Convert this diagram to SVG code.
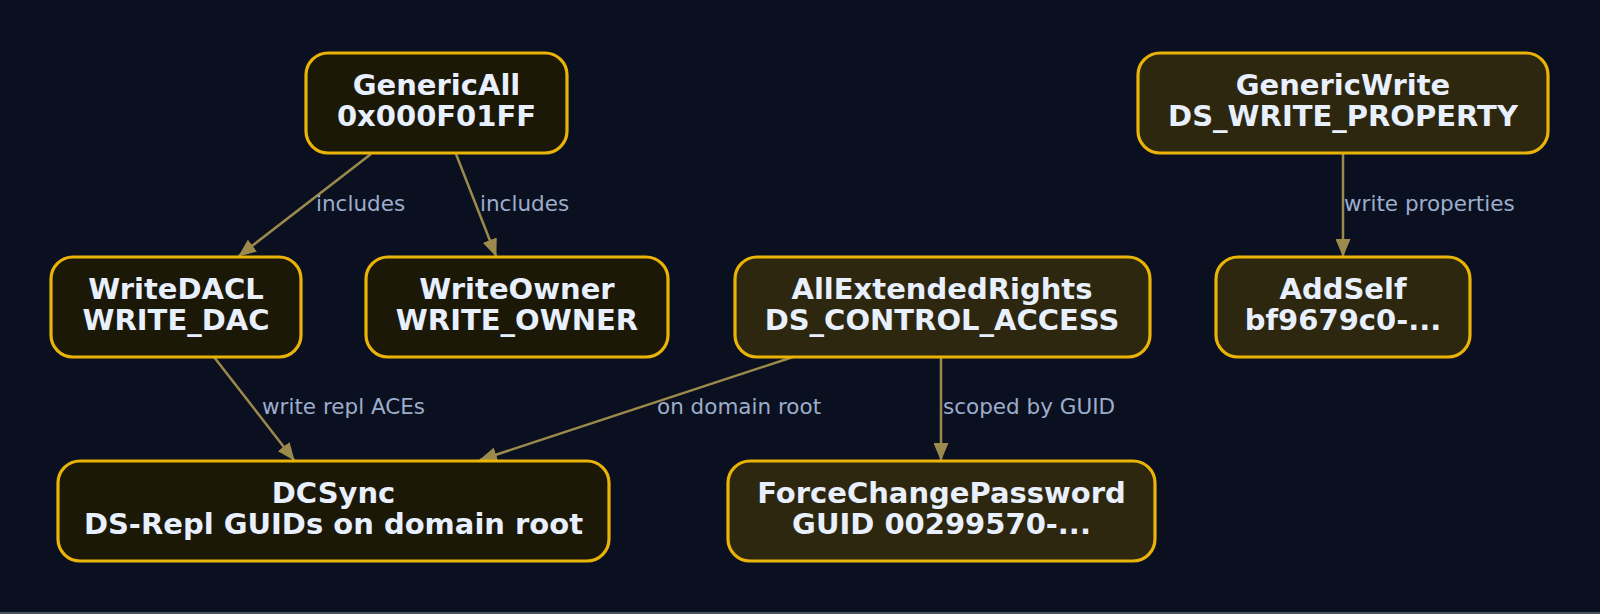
<svg xmlns="http://www.w3.org/2000/svg" width="1600" height="614" viewBox="0 0 1600 614">
  <defs>
    <marker id="arrow" markerUnits="userSpaceOnUse" markerWidth="18" markerHeight="15" refX="17" refY="7.5" orient="auto">
      <path d="M0,0 L18,7.5 L0,15 z" fill="#9c8a4c"/>
    </marker>
  </defs>
  <style>
    .node rect { stroke: #eab308; stroke-width: 3.2; }
    .dark rect { fill: #1c1808; }
    .light rect { fill: #2e2710; }
    .node text { font-family: "DejaVu Sans", sans-serif; font-weight: bold; font-size: 29px; fill: #e8effd; text-anchor: middle; }
    .edge { stroke: #9c8a4c; stroke-width: 2.5; fill: none; marker-end: url(#arrow); }
    .lbl { font-family: "DejaVu Sans", sans-serif; font-size: 21.5px; fill: #9cadcc; }
  </style>
  <rect x="0" y="0" width="1600" height="614" fill="#0b1020"/>
  <rect x="0" y="612" width="1600" height="2" fill="#4a5262"/>

  <g id="connectors">
    <line class="edge" x1="371" y1="154" x2="239" y2="256"/>
    <line class="edge" x1="456" y1="154" x2="496" y2="256"/>
    <line class="edge" x1="1343" y1="154" x2="1343" y2="256"/>
    <line class="edge" x1="214" y1="357" x2="294" y2="460"/>
    <line class="edge" x1="793" y1="357" x2="480" y2="460"/>
    <line class="edge" x1="941" y1="357" x2="941" y2="460"/>
    <text class="lbl" x="316" y="210.5">includes</text>
    <text class="lbl" x="480" y="210.5">includes</text>
    <text class="lbl" x="1344" y="210.5">write properties</text>
    <text class="lbl" x="262" y="414">write repl ACEs</text>
    <text class="lbl" x="657" y="414">on domain root</text>
    <text class="lbl" x="943" y="414">scoped by GUID</text>
  </g>

  <g id="GenericAll" class="node dark">
    <rect x="306" y="53" width="261" height="100" rx="22"/>
    <text x="436.5" y="95">GenericAll</text>
    <text x="436.5" y="126">0x000F01FF</text>
  </g>
  <g id="GenericWrite" class="node light">
    <rect x="1138" y="53" width="410" height="100" rx="22"/>
    <text x="1343" y="95">GenericWrite</text>
    <text x="1343" y="126">DS_WRITE_PROPERTY</text>
  </g>
  <g id="WriteDACL" class="node dark">
    <rect x="51" y="257" width="250" height="100" rx="22"/>
    <text x="176" y="299">WriteDACL</text>
    <text x="176" y="330">WRITE_DAC</text>
  </g>
  <g id="WriteOwner" class="node dark">
    <rect x="366" y="257" width="302" height="100" rx="22"/>
    <text x="517" y="299">WriteOwner</text>
    <text x="517" y="330">WRITE_OWNER</text>
  </g>
  <g id="AllExtendedRights" class="node light">
    <rect x="735" y="257" width="415" height="100" rx="22"/>
    <text x="942" y="299">AllExtendedRights</text>
    <text x="942" y="330">DS_CONTROL_ACCESS</text>
  </g>
  <g id="AddSelf" class="node light">
    <rect x="1216" y="257" width="254" height="100" rx="22"/>
    <text x="1343" y="299">AddSelf</text>
    <text x="1343" y="330">bf9679c0-...</text>
  </g>
  <g id="DCSync" class="node dark">
    <rect x="58" y="461" width="551" height="100" rx="22"/>
    <text x="333.5" y="503">DCSync</text>
    <text x="333.5" y="534">DS-Repl GUIDs on domain root</text>
  </g>
  <g id="ForceChangePassword" class="node light">
    <rect x="728" y="461" width="427" height="100" rx="22"/>
    <text x="941.5" y="503">ForceChangePassword</text>
    <text x="941.5" y="534">GUID 00299570-...</text>
  </g>
</svg>
